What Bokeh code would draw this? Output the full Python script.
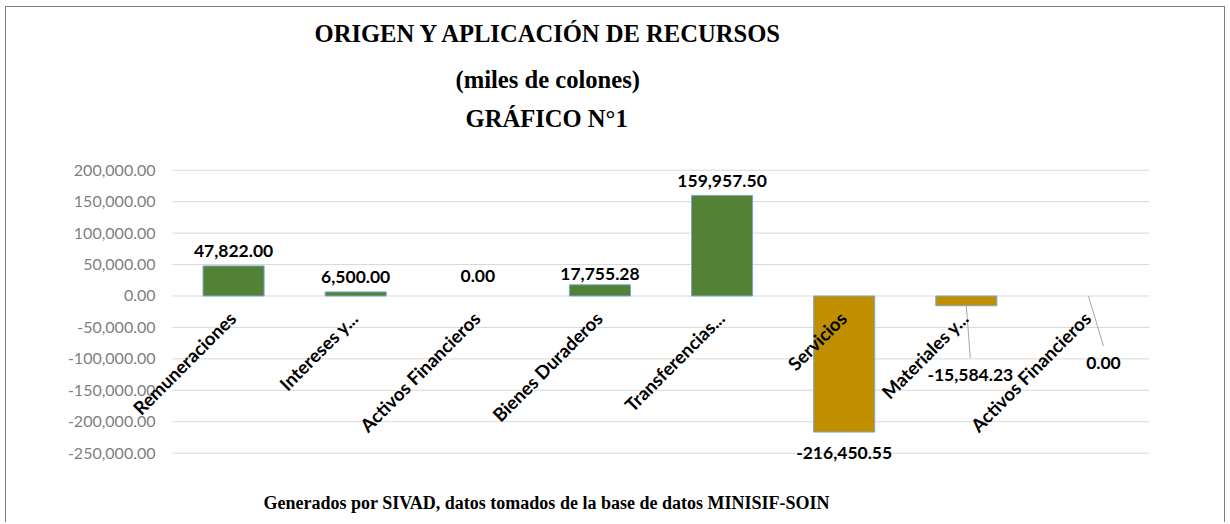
import math
from bokeh.plotting import figure
from bokeh.models import (ColumnDataSource, LabelSet, FixedTicker, NumeralTickFormatter,
                          Title, Range1d)
from bokeh.core.properties import value
from bokeh.embed import file_html
from bokeh.resources import INLINE

# ---------------- data ----------------
categories = ["Remuneraciones", "Intereses y...", "Activos Financieros", "Bienes Duraderos",
              "Transferencias...", "Servicios", "Materiales y...", "Activos Financieros"]
groups = ["Origen", "Origen", "Origen", "Origen", "Origen",
          "Aplicación", "Aplicación", "Aplicación"]
values = [47822.00, 6500.00, 0.00, 17755.28, 159957.50, -216450.55, -15584.23, 0.00]
y_ticks = [-250000, -200000, -150000, -100000, -50000, 0, 50000, 100000, 150000, 200000]

# ---------------- styles ----------------
group_colors = {"Origen": "#538135", "Aplicación": "#bf8f00"}
# data-label placement (pixels) relative to the bar end, and leader-line flag
label_dx = [0, 0, 0, 0, 0, 0, 4, 15]
label_dy = [15, 15, 20, 11, 14, -20.5, -69, -67]
leader = [False, False, False, False, False, False, True, True]

n = len(categories)
GRID_X0, GRID_X1 = -0.5, n - 0.5          # plot area of the category axis
PX_PER_CAT = 122.125                        # pixels per category
LEFT_PAD = 132                              # room left of the plot area for the value labels
FRAME_W = int(round(PX_PER_CAT * n + LEFT_PAD))
FRAME_H = 357
Y0, Y1 = -307760, 260000
X0, X1 = GRID_X0 - LEFT_PAD / PX_PER_CAT, GRID_X1
px_per_y = FRAME_H / (Y1 - Y0)
px_per_x = FRAME_W / (X1 - X0)

SERIF = "Liberation Serif"
SANS = "Lato"

p = figure(width=1220, height=516, x_range=Range1d(X0, X1), y_range=Range1d(Y0, Y1),
           output_backend="svg", toolbar_location=None, tools="",
           min_border_left=34, min_border_right=1220 - 34 - FRAME_W,
           min_border_top=125, min_border_bottom=516 - 125 - FRAME_H,
           outline_line_color=None, background_fill_color="white", border_fill_color="white")
p.styles = {"margin-left": "5px", "margin-top": "6px",
            "border-left": "1px solid #7f7f7f", "border-top": "1px solid #7f7f7f",
            "border-right": "1px solid #7f7f7f"}

idx = list(range(n))
src = ColumnDataSource(dict(
    x=idx, top=values, cat=categories,
    color=[group_colors[g] for g in groups],
    edge=[0.0 if v == 0 else 1.0 for v in values],
    label=[f"{v:,.2f}" for v in values],
    dx=label_dx, dy=label_dy,
))

# horizontal gridlines across the plot area
p.segment(x0=GRID_X0, x1=GRID_X1, y0=y_ticks, y1=y_ticks, line_color="#d9d9d9", line_width=1)

p.vbar(x="x", top="top", width=0.5, source=src, fill_color="color",
       line_color="#7aa7d6", line_alpha="edge", line_width=1)

# leader lines for the moved labels
lx0, ly0, lx1, ly1 = [], [], [], []
for i, v in enumerate(values):
    if leader[i]:
        lx0.append(i)
        ly0.append(v)
        lx1.append(i + label_dx[i] / px_per_x)
        ly1.append(v + (label_dy[i] + 17) / px_per_y)
p.segment(x0=lx0, y0=ly0, x1=lx1, y1=ly1, line_color="#a6a6a6", line_width=1)

# data labels
p.add_layout(LabelSet(x="x", y="top", text="label", source=src, x_offset="dx", y_offset="dy",
                      text_align="center", text_baseline="middle", text_font=value(SANS),
                      text_font_size="17.5px", text_font_style="bold", text_color="#000000"))

# category labels, rotated, hanging from the zero line
p.add_layout(LabelSet(x="x", y=0, text="cat", source=src, x_offset=-1, y_offset=-19,
                      angle=math.pi / 4, text_align="right", text_baseline="middle",
                      text_font=value(SANS), text_font_size="18.5px", text_font_style="bold",
                      text_color="#000000"))

# value axis at the left edge of the plot area
p.yaxis.fixed_location = GRID_X0
p.yaxis.ticker = FixedTicker(ticks=y_ticks)
p.yaxis.formatter = NumeralTickFormatter(format="0,0.00")
p.yaxis.axis_line_color = None
p.yaxis.major_tick_line_color = None
p.yaxis.minor_tick_line_color = None
p.yaxis.major_tick_in = 0
p.yaxis.major_tick_out = 0
p.yaxis.major_label_standoff = 17
p.yaxis.major_label_text_font = SANS
p.yaxis.major_label_text_font_size = "16px"
p.yaxis.major_label_text_color = "#808080"
p.grid.visible = False
p.xaxis.visible = False

# titles (innermost first)
for text, off, so in [("GRÁFICO N°1", 425, 1), ("(miles de colones)", 415, 20),
                      ("ORIGEN Y APLICACIÓN DE RECURSOS", 274, 13)]:
    p.add_layout(Title(text=text, align="left", offset=off, standoff=so, text_font=SERIF,
                       text_font_size="24.6px", text_font_style="bold", text_color="#000000"),
                 "above")

p.add_layout(Title(text="Generados por SIVAD, datos tomados de la base de datos MINISIF-SOIN",
                   align="left", offset=223, standoff=2, text_font=SERIF,
                   text_font_size="18px", text_font_style="bold", text_color="#000000"),
             "below")

open("out.html", "w").write(file_html(p, INLINE))
